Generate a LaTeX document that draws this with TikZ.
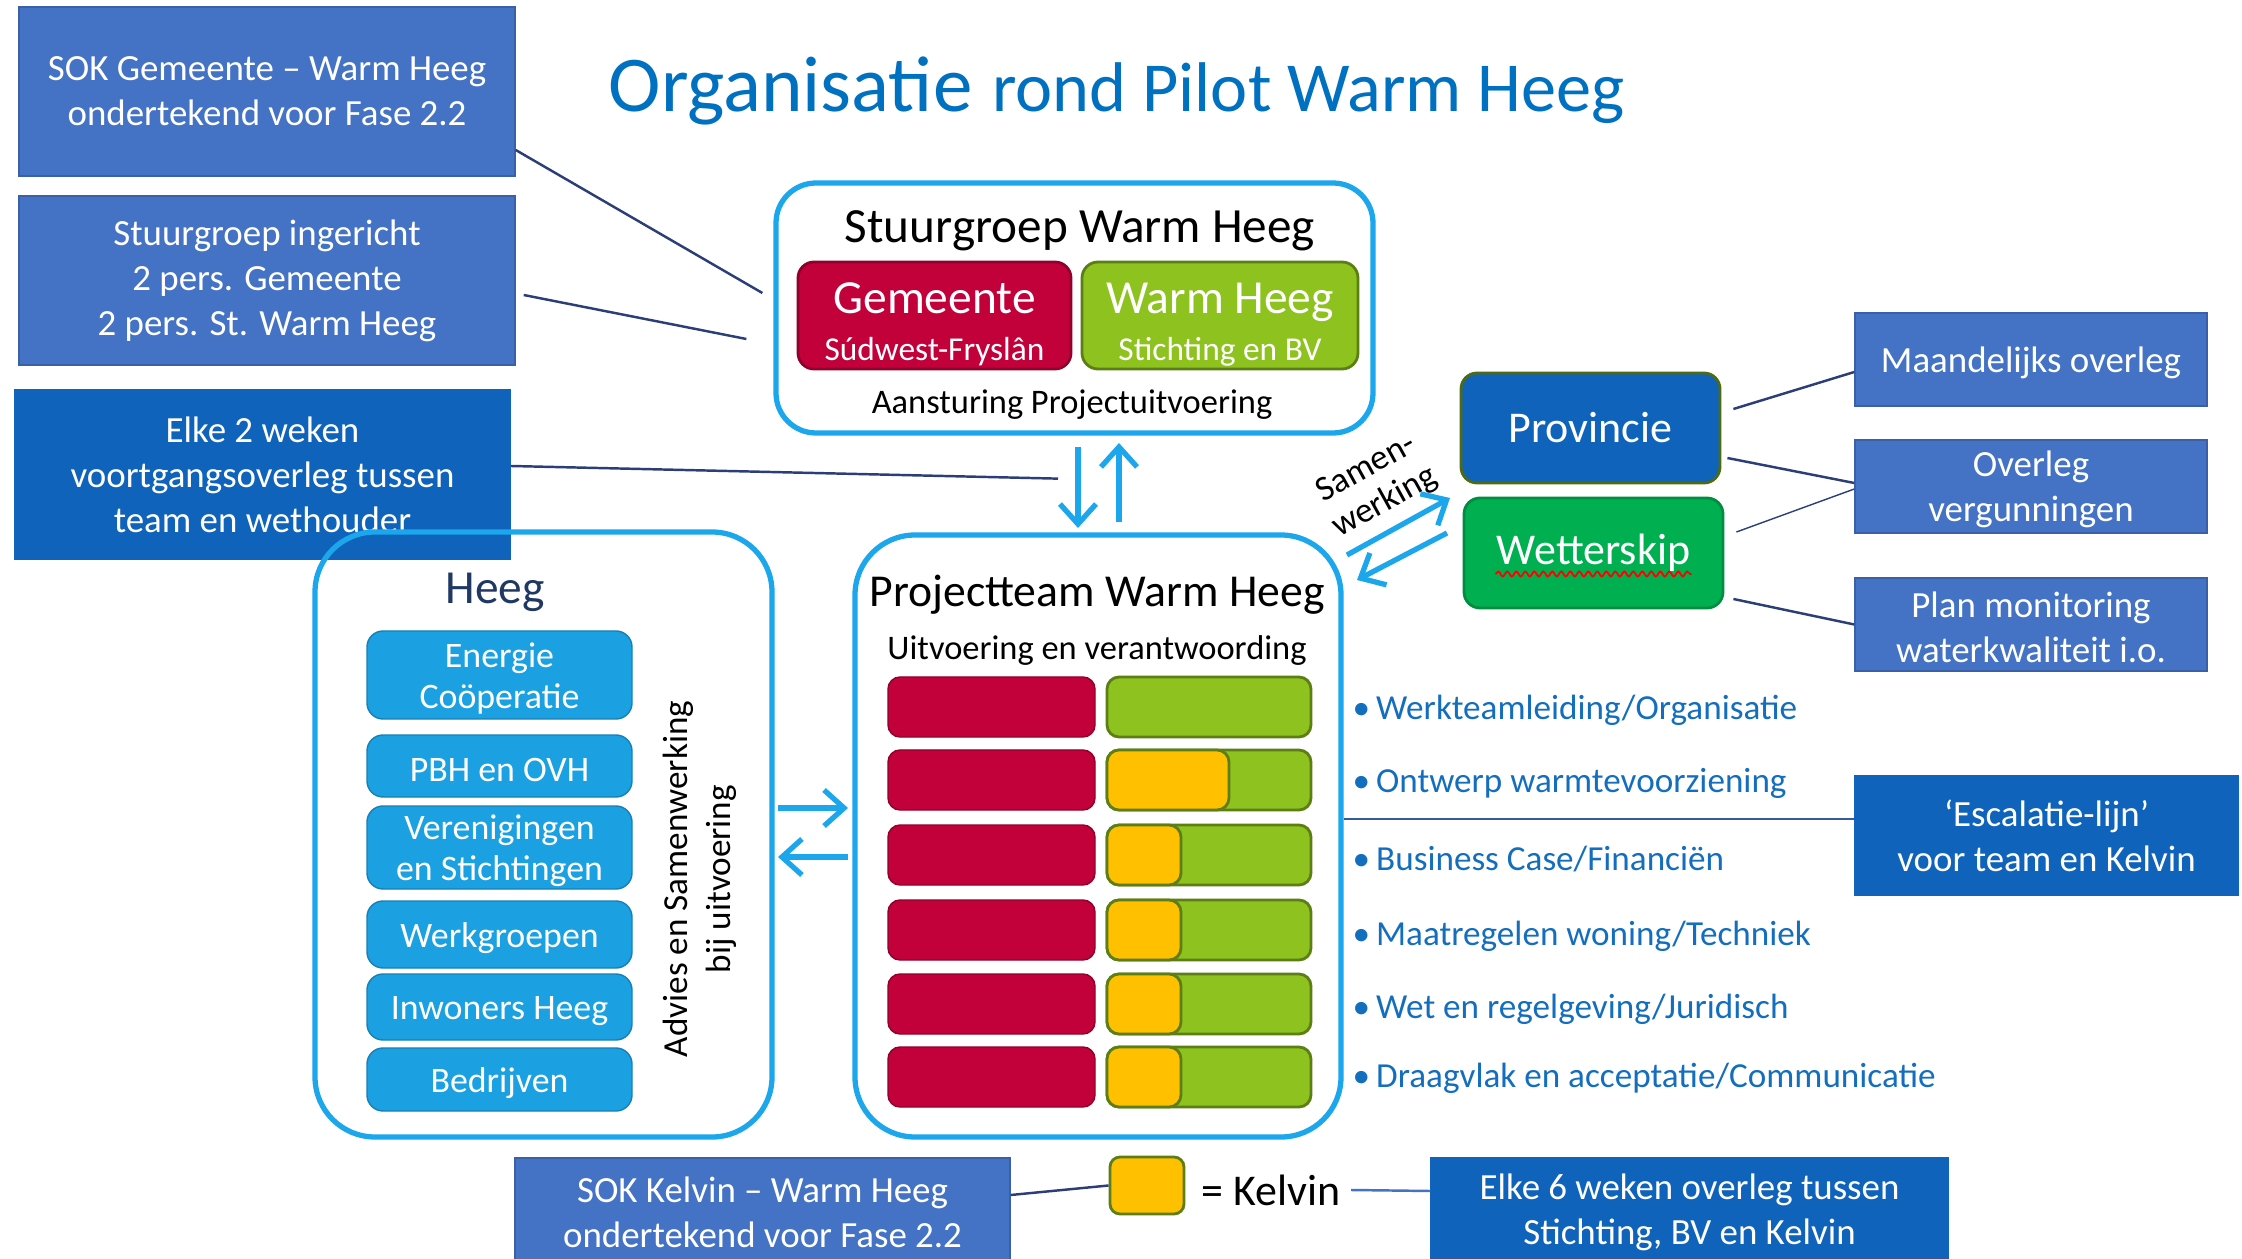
\documentclass[tikz,border=0pt]{standalone}
\usepackage{fontspec}
\setmainfont{Carlito}
\usetikzlibrary{arrows.meta, decorations.pathmorphing}

\definecolor{boxblue}{RGB}{68,114,196}
\definecolor{darkblue}{RGB}{16,99,186}
\definecolor{lineblue}{RGB}{28,166,236}
\definecolor{heegblue}{RGB}{27,160,226}
\definecolor{gemred}{RGB}{194,0,58}
\definecolor{whgreen}{RGB}{141,194,31}
\definecolor{kelvinyellow}{RGB}{255,192,0}
\definecolor{wsgreen}{RGB}{0,176,80}
\definecolor{linknavy}{RGB}{44,62,120}
\definecolor{itemblue}{RGB}{20,110,190}
\definecolor{titleblue}{RGB}{0,112,192}
\definecolor{heegnavy}{RGB}{31,56,100}

\begin{document}
\begin{tikzpicture}[
		every node/.style={align=center, inner sep=0pt, font=\fontsize{10.5}{12.8}\selectfont},
		infobox/.style={rectangle, fill=boxblue, draw=boxblue!85!black, text=white, minimum width=4.96cm, minimum height=1.69cm},
		groupbox/.style={rectangle, draw=lineblue, line width=1.5pt, rounded corners=0.4cm},
		orgbox/.style={rectangle, rounded corners=1.6mm, text=white, line width=0.8pt},
		member/.style={rectangle, rounded corners=1.6mm, fill=heegblue, draw=heegblue!80!black, text=white, minimum width=2.65cm, font=\fontsize{10.2}{11.8}\selectfont},
		redbar/.style={rectangle, rounded corners=1.2mm, fill=gemred, draw=gemred!75!black, minimum width=2.07cm, minimum height=0.6cm},
		greenbar/.style={rectangle, rounded corners=1.2mm, fill=whgreen, draw=whgreen!65!black, line width=0.8pt, minimum width=2.04cm, minimum height=0.6cm},
		yellowbar/.style={rectangle, rounded corners=1.2mm, fill=kelvinyellow, draw=whgreen!65!black, line width=0.8pt, minimum height=0.6cm},
		item/.style={anchor=west, text=itemblue, font=\fontsize{10}{12}\selectfont},
		link/.style={draw=linknavy, line width=0.7pt},
		flow/.style={draw=lineblue, line width=1.5pt, -{Straight Barb[length=2mm, width=3.6mm]}}
	]
  \useasboundingbox (0cm,0cm) rectangle (22.42cm,-12.59cm);
  \node (title) [anchor=west, text=titleblue] at (6.08cm,-0.91cm) {{\fontsize{22.5}{28}\selectfont Organisatie}\hspace{0.2cm}{\fontsize{20}{24}\selectfont rond Pilot Warm Heeg}};
  \node (sok_gem) [infobox] at (2.67cm,-0.915cm) {SOK Gemeente – Warm Heeg\\ondertekend voor Fase 2.2};
  \node (stuur_info) [infobox] at (2.67cm,-2.805cm) {Stuurgroep ingericht\\2 pers. Gemeente\\2 pers. St. Warm Heeg};
  \node (overleg_2w) [infobox, fill=darkblue, draw=darkblue] at (2.625cm,-4.745cm) {Elke 2 weken\\voortgangsoverleg tussen\\team en wethouder};
  \node (stuurgroep) [groupbox, minimum width=5.97cm, minimum height=2.50cm] at (10.745cm,-3.08cm) {};
  \node (stuurgroep_label) [font=\fontsize{14}{17}\selectfont] at (10.8cm,-2.31cm) {Stuurgroep Warm Heeg};
  \node (gem) [orgbox, fill=gemred, draw=gemred!75!black, minimum width=2.73cm, minimum height=1.07cm, font=\fontsize{9.5}{13.4}\selectfont] at (9.345cm,-3.155cm) {\rule{0pt}{14pt}{\fontsize{13.5}{13.4}\selectfont Gemeente}\\Súdwest-Fryslân};
  \node (wh) [orgbox, fill=whgreen, draw=whgreen!65!black, minimum width=2.76cm, minimum height=1.07cm, font=\fontsize{9.5}{13.4}\selectfont] at (12.2cm,-3.155cm) {\rule{0pt}{14pt}{\fontsize{13.5}{13.4}\selectfont Warm Heeg}\\Stichting en BV};
  \node (aansturing) [font=\fontsize{9.8}{12}\selectfont] at (10.72cm,-4.05cm) {Aansturing Projectuitvoering};
  \node (projectteam) [groupbox, rounded corners=0.6cm, minimum width=4.86cm, minimum height=6.02cm] at (10.98cm,-8.36cm) {};
  \node (pt_label) [font=\fontsize{13}{16}\selectfont] at (10.97cm,-5.95cm) {Projectteam Warm Heeg};
  \node (pt_sub) [font=\fontsize{9.8}{12}\selectfont] at (10.97cm,-6.51cm) {Uitvoering en verantwoording};
  \node (red_1) [redbar] at (9.915cm,-7.07cm) {};
  \node (red_2) [redbar] at (9.915cm,-7.80cm) {};
  \node (red_3) [redbar] at (9.915cm,-8.55cm) {};
  \node (red_4) [redbar] at (9.915cm,-9.30cm) {};
  \node (red_5) [redbar] at (9.915cm,-10.04cm) {};
  \node (red_6) [redbar] at (9.915cm,-10.77cm) {};
  \node (green_1) [greenbar] at (12.09cm,-7.07cm) {};
  \node (green_2) [greenbar] at (12.09cm,-7.80cm) {};
  \node (green_3) [greenbar] at (12.09cm,-8.55cm) {};
  \node (green_4) [greenbar] at (12.09cm,-9.30cm) {};
  \node (green_5) [greenbar] at (12.09cm,-10.04cm) {};
  \node (green_6) [greenbar] at (12.09cm,-10.77cm) {};
  \node (yellow_2) [yellowbar, minimum width=1.22cm] at (11.68cm,-7.80cm) {};
  \node (yellow_3) [yellowbar, minimum width=0.74cm] at (11.44cm,-8.55cm) {};
  \node (yellow_4) [yellowbar, minimum width=0.74cm] at (11.44cm,-9.30cm) {};
  \node (yellow_5) [yellowbar, minimum width=0.74cm] at (11.44cm,-10.04cm) {};
  \node (yellow_6) [yellowbar, minimum width=0.74cm] at (11.44cm,-10.77cm) {};
  \node (heeg) [groupbox, rounded corners=0.6cm, minimum width=4.57cm, minimum height=6.05cm] at (5.435cm,-8.345cm) {};
  \node (heeg_label) [text=heegnavy, font=\fontsize{13.5}{16}\selectfont] at (4.95cm,-5.92cm) {Heeg};
  \node (energie) [member, minimum height=0.88cm] at (4.995cm,-6.75cm) {\rule{0pt}{9pt}Energie\\Coöperatie};
  \node (pbh) [member, minimum height=0.62cm] at (4.995cm,-7.66cm) {\rule{0pt}{9pt}PBH en OVH};
  \node (verenigingen) [member, minimum height=0.83cm] at (4.995cm,-8.475cm) {\rule{0pt}{9pt}Verenigingen\\en Stichtingen};
  \node (werkgroepen) [member, minimum height=0.67cm] at (4.995cm,-9.345cm) {\rule{0pt}{9pt}Werkgroepen};
  \node (inwoners) [member, minimum height=0.66cm] at (4.995cm,-10.07cm) {\rule{0pt}{9pt}Inwoners Heeg};
  \node (bedrijven) [member, minimum height=0.63cm] at (4.995cm,-10.795cm) {\rule{0pt}{9pt}Bedrijven};
  \node (advies) [rotate=90, font=\fontsize{10}{12.4}\selectfont] at (7.0cm,-8.79cm) {Advies en Samenwerking\\bij uitvoering};
  \node (samen) [rotate=29, font=\fontsize{10}{11}\selectfont] at (13.76cm,-4.86cm) {Samen-\\werking};
  \node (provincie) [orgbox, fill=darkblue, draw=whgreen!55!black, minimum width=2.59cm, minimum height=1.10cm, font=\fontsize{12.5}{15}\selectfont] at (15.905cm,-4.28cm) {Provincie};
  \node (wetterskip) [orgbox, fill=wsgreen, draw=wsgreen!80!black, minimum width=2.59cm, minimum height=1.10cm, font=\fontsize{12.5}{15}\selectfont] at (15.935cm,-5.53cm) {Wetterskip};
  \node (maandelijks) [infobox, minimum width=3.52cm, minimum height=0.93cm] at (20.31cm,-3.595cm) {\rule{0pt}{9pt}Maandelijks overleg};
  \node (vergunningen) [infobox, minimum width=3.52cm, minimum height=0.93cm] at (20.31cm,-4.865cm) {\rule{0pt}{9pt}Overleg\\vergunningen};
  \node (monitoring) [infobox, minimum width=3.52cm, minimum height=0.93cm] at (20.31cm,-6.245cm) {\rule{0pt}{9pt}Plan monitoring\\waterkwaliteit i.o.};
  \node (escalatie) [infobox, fill=darkblue, draw=darkblue, minimum width=3.83cm, minimum height=1.19cm] at (20.465cm,-8.355cm) {‘Escalatie-lijn’\\voor team en Kelvin};
  \node (werkteam) [item] at (13.52cm,-7.1cm) {\textbullet\hspace{0.06cm}Werkteamleiding/Organisatie};
  \node (ontwerp) [item] at (13.52cm,-7.83cm) {\textbullet\hspace{0.06cm}Ontwerp warmtevoorziening};
  \node (business) [item] at (13.52cm,-8.59cm) {\textbullet\hspace{0.06cm}Business Case/Financiën};
  \node (maatregelen) [item] at (13.52cm,-9.36cm) {\textbullet\hspace{0.06cm}Maatregelen woning/Techniek};
  \node (wet) [item] at (13.52cm,-10.09cm) {\textbullet\hspace{0.06cm}Wet en regelgeving/Juridisch};
  \node (draagvlak) [item] at (13.52cm,-10.78cm) {\textbullet\hspace{0.06cm}Draagvlak en acceptatie/Communicatie};
  \node (sok_kelvin) [infobox, minimum width=4.95cm, minimum height=1.08cm] at (7.625cm,-12.12cm) {SOK Kelvin – Warm Heeg\\ondertekend voor Fase 2.2};
  \node (kelvin) [rectangle, rounded corners=1mm, fill=kelvinyellow, draw=whgreen!65!black, line width=0.8pt, minimum width=0.74cm, minimum height=0.57cm] at (11.47cm,-11.855cm) {};
  \node (kelvin_label) [font=\fontsize{12.5}{15}\selectfont] at (12.71cm,-11.9cm) {= Kelvin};
  \node (overleg_6w) [infobox, fill=darkblue, draw=darkblue, minimum width=5.17cm, minimum height=1.08cm] at (16.895cm,-12.12cm) {Elke 6 weken overleg tussen\\Stichting, BV en Kelvin};
  \coordinate (sg_down_top) at (10.78cm,-4.47cm);
  \coordinate (sg_down_end) at (10.78cm,-5.28cm);
  \coordinate (sg_up_start) at (11.19cm,-5.22cm);
  \coordinate (sg_up_end) at (11.19cm,-4.43cm);
  \coordinate (heeg_right_start) at (7.78cm,-8.08cm);
  \coordinate (heeg_right_end) at (8.48cm,-8.08cm);
  \coordinate (heeg_left_start) at (8.48cm,-8.57cm);
  \coordinate (heeg_left_end) at (7.78cm,-8.57cm);
  \coordinate (samen_up_start) at (13.47cm,-5.55cm);
  \coordinate (samen_up_end) at (14.50cm,-4.98cm);
  \coordinate (samen_down_start) at (14.47cm,-5.33cm);
  \coordinate (samen_down_end) at (13.57cm,-5.80cm);
  \draw (sg_down_top) edge [flow] (sg_down_end);
  \draw (sg_up_start) edge [flow] (sg_up_end);
  \draw (heeg_right_start) edge [flow] (heeg_right_end);
  \draw (heeg_left_start) edge [flow] (heeg_left_end);
  \draw (samen_up_start) edge [flow] (samen_up_end);
  \draw (samen_down_start) edge [flow] (samen_down_end);
  \draw ([yshift=-5.85mm]sok_gem.east) edge [link] ([xshift=-1.1mm, yshift=1.5mm]stuurgroep.west);
  \draw ([xshift=0.8mm, yshift=-1.45mm]stuur_info.east) edge [link] ([xshift=-2.7mm, yshift=-3.1mm]stuurgroep.west);
  \draw ([yshift=0.85mm]overleg_2w.east) edge [link] ([xshift=-1.65mm, yshift=-4.3mm]stuurgroep.south);
  \draw ([xshift=1.2mm, yshift=1.9mm]provincie.east) edge [link] ([yshift=-1.25mm]maandelijks.west);
  \draw ([xshift=0.6mm, yshift=-3mm]provincie.east) edge [link] ([yshift=0.35mm]vergunningen.west);
  \draw ([xshift=1.2mm, yshift=2.1mm]wetterskip.east) edge [link, line width=0.4pt] ([yshift=-0.25mm]vergunningen.west);
  \draw ([xshift=0.9mm, yshift=-4.6mm]wetterskip.east) edge [link] (monitoring.west);
  \draw ([yshift=1.65mm]escalatie.west) edge [link, draw=boxblue!80!black] ([yshift=1.65mm]escalatie.west -| projectteam.east);
  \draw ([yshift=1.7mm]sok_kelvin.east) edge [link] (kelvin.west);
  \draw ([xshift=1mm]kelvin_label.east) edge [link, draw=boxblue] ([yshift=2.1mm]overleg_6w.west);
  \draw [red, line width=0.5pt, decorate, decoration={snake, amplitude=0.25mm, segment length=0.9mm}] ([xshift=-0.98cm, yshift=-2.1mm]wetterskip.center) -- ([xshift=0.98cm, yshift=-2.1mm]wetterskip.center);
\end{tikzpicture}
\end{document}
